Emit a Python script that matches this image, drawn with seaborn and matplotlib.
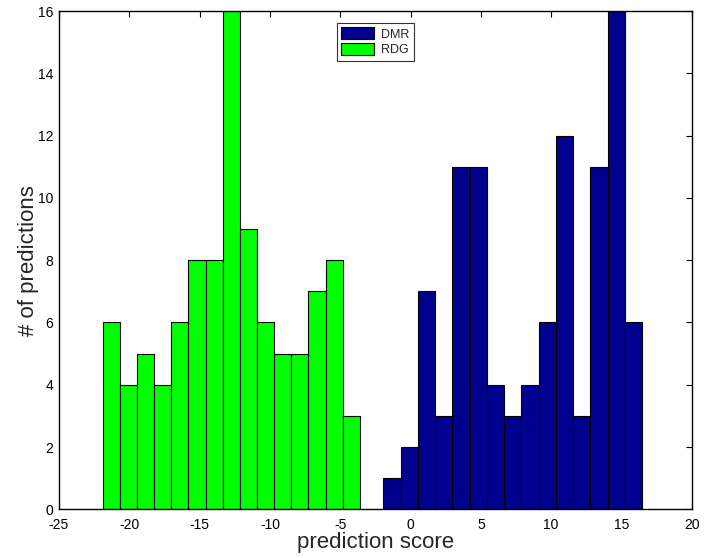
import numpy as np
import pandas as pd
import matplotlib
matplotlib.use("Agg")
import matplotlib.pyplot as plt
import seaborn as sns

# ---- data ----
dmr_counts = [1, 2, 7, 3, 11, 11, 4, 3, 4, 6, 12, 3, 11, 16, 6]
dmr_range = (-1.93, 16.47)
rdg_counts = [6, 4, 5, 4, 6, 8, 8, 16, 9, 6, 5, 5, 7, 8, 3]
rdg_range = (-21.9, -3.6)
labels = ["DMR", "RDG"]
x_ticks = [-25, -20, -15, -10, -5, 0, 5, 10, 15, 20]
y_ticks = [0, 2, 4, 6, 8, 10, 12, 14, 16]

sns.set_theme(style="white")
plt.rcParams["font.family"] = ["Liberation Sans", "DejaVu Sans"]
plt.rcParams["axes.unicode_minus"] = False

fig = plt.figure(figsize=(7.16, 5.58), dpi=100)
ax = fig.add_axes([0.0824, 0.0873, 0.8837, 0.8927])

def draw(counts, rng, color, label):
    n = len(counts)
    w = (rng[1] - rng[0]) / n
    centers = [rng[0] + w * (i + 0.5) for i in range(n)]
    df = pd.DataFrame({"score": centers, "count": counts})
    sns.histplot(data=df, x="score", weights="count", bins=n, binrange=rng,
                 color=color, edgecolor="black", linewidth=0.8, alpha=1.0,
                 label=label, ax=ax)

draw(dmr_counts, dmr_range, "#00008F", labels[0])
draw(rdg_counts, rdg_range, "#00FF00", labels[1])

ax.set_xlim(-25, 20)
ax.set_ylim(0, 16)
ax.set_xticks(x_ticks)
ax.set_yticks(y_ticks)
ax.tick_params(direction="in", top=True, right=True, length=4, width=0.8,
               labelsize=10, colors="black")
ax.tick_params(axis="x", pad=6)
ax.tick_params(axis="y", pad=4)
for s in ax.spines.values():
    s.set_visible(True)
    s.set_color("black")
    s.set_linewidth(1.0)
ax.set_xlabel("prediction score", fontsize=16, labelpad=0)
ax.set_ylabel("# of predictions", fontsize=16, labelpad=-1)

leg = ax.legend(loc="upper center", bbox_to_anchor=(0.5, 0.976), fontsize=9,
                frameon=True, fancybox=False, edgecolor="black",
                handlelength=2.6, handleheight=1.1, borderpad=0.35,
                labelspacing=0.2, handletextpad=0.6, borderaxespad=0)
leg.get_frame().set_linewidth(0.8)

fig.savefig("out.png", dpi=100)
